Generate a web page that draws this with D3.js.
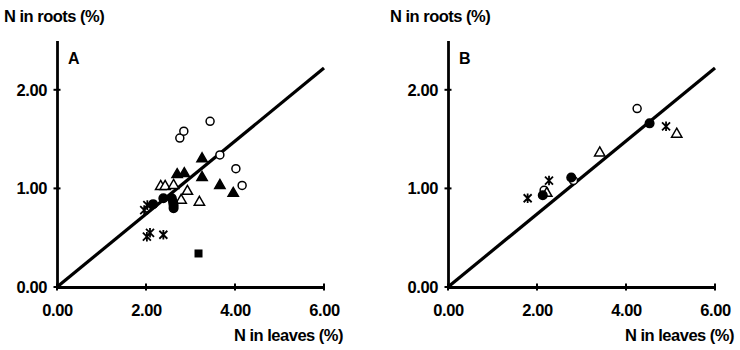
<!DOCTYPE html>
<html>
<head>
<meta charset="utf-8">
<script src="https://cdnjs.cloudflare.com/ajax/libs/d3/7.8.5/d3.min.js"></script>
<style>
  body { margin: 0; background: #fff; }
  svg text { font-family: "Liberation Sans", Arial, sans-serif; font-weight: bold; fill: #000; }
</style>
</head>
<body>
<div id="graph"></div>
<script>
// ---- data (N in leaves %, N in roots %) ----
var xTicks = [0, 2, 4, 6];
var yTicks = [0, 1, 2];
var fitX = [0, 6];
var fitY = [0, 2.22];

// panel A
var openCircleAx = [2.76, 2.85, 3.44, 3.66, 4.02, 4.16];
var openCircleAy = [1.51, 1.58, 1.68, 1.34, 1.20, 1.03];
var filledCircleAx = [2.16, 2.39, 2.58, 2.61, 2.62, 2.62];
var filledCircleAy = [0.84, 0.90, 0.90, 0.86, 0.83, 0.80];
var openTriAx = [2.33, 2.43, 2.62, 2.93, 2.79, 3.20];
var openTriAy = [1.02, 1.02, 1.03, 0.97, 0.88, 0.86];
var filledTriAx = [3.26, 2.70, 2.86, 3.26, 3.66, 3.96];
var filledTriAy = [1.30, 1.14, 1.15, 1.11, 1.03, 0.95];
var starAx = [1.96, 2.03, 2.02, 2.09, 2.39];
var starAy = [0.78, 0.83, 0.51, 0.55, 0.53];
var squareAx = [3.18];
var squareAy = [0.34];

// panel B
var openCircleBx = [4.25, 2.82, 2.16];
var openCircleBy = [1.81, 1.08, 0.98];
var filledCircleBx = [4.53, 2.77, 2.13];
var filledCircleBy = [1.66, 1.11, 0.93];
var openTriBx = [5.14, 3.41, 2.22];
var openTriBy = [1.55, 1.36, 0.95];
var starBx = [4.90, 2.27, 1.79];
var starBy = [1.63, 1.08, 0.90];

var svg = d3.select("#graph").append("svg")
    .attr("width", 740)
    .attr("height", 350);

function zip(xs, ys) { return xs.map(function(x, i) { return [x, ys[i]]; }); }

// X with vertical bar, like the spreadsheet "*" marker
function starPath(s) {
    return "M" + (-s) + "," + (-s) + "L" + s + "," + s +
           "M" + (-s) + "," + s + "L" + s + "," + (-s) +
           "M0," + (-s * 1.2) + "L0," + (s * 1.2);
}

function panel(left, letter, titleX, series) {
    var x = d3.scaleLinear().domain([0, 6]).range([left, left + 267]);
    var y = d3.scaleLinear().domain([0, 2.5]).range([287, 40.5]);
    var g = svg.append("g");

    // axes
    var xaxis = d3.axisBottom(x).tickValues(xTicks).tickSize(0).tickPadding(17)
        .tickFormat(d3.format(".2f"));
    var yaxis = d3.axisLeft(y).tickValues(yTicks).tickSize(0).tickPadding(10)
        .tickFormat(d3.format(".2f"));
    g.append("g").attr("class", "x axis")
        .attr("transform", "translate(0," + y(0) + ")")
        .call(xaxis);
    g.append("g").attr("class", "y axis")
        .attr("transform", "translate(" + x(0) + ",0)")
        .call(yaxis);
    g.selectAll(".axis path").attr("stroke", "#000").attr("stroke-width", 2.8);
    g.selectAll(".axis text").style("font-size", "16.5px").style("font-family", null)
        .style("letter-spacing", "-0.4px");
    // crossing tick marks
    g.selectAll(".xt").data(xTicks).enter().append("line")
        .attr("x1", function(d) { return x(d); }).attr("x2", function(d) { return x(d); })
        .attr("y1", y(0) - 3.5).attr("y2", y(0) + 3.5)
        .attr("stroke", "#000").attr("stroke-width", 2);
    g.selectAll(".yt").data(yTicks).enter().append("line")
        .attr("y1", function(d) { return y(d); }).attr("y2", function(d) { return y(d); })
        .attr("x1", x(0) - 3.5).attr("x2", x(0) + 3.5)
        .attr("stroke", "#000").attr("stroke-width", 2);

    // titles
    g.append("text").attr("x", titleX).attr("y", 22)
        .style("font-size", "16.5px").style("letter-spacing", "-0.5px")
        .text("N in roots (%)");
    g.append("text").attr("x", left + 286).attr("y", 341)
        .style("text-anchor", "end")
        .style("font-size", "16.5px").style("letter-spacing", "-0.5px")
        .text("N in leaves (%)");
    g.append("text").attr("x", left + 11).attr("y", 64)
        .style("font-size", "16px")
        .text(letter);

    // fitted line
    g.append("path")
        .datum(zip(fitX, fitY))
        .attr("d", d3.line().x(function(d) { return x(d[0]); }).y(function(d) { return y(d[1]); }))
        .attr("stroke", "#000").attr("stroke-width", 3.2).attr("fill", "none");

    // markers
    var tri = d3.symbol().type(d3.symbolTriangle).size(46);
    series.forEach(function(s) {
        var pts = g.selectAll(null).data(zip(s.x, s.y)).enter();
        if (s.kind == "circle") {
            pts.append("circle")
                .attr("cx", function(d) { return x(d[0]); })
                .attr("cy", function(d) { return y(d[1]); })
                .attr("r", s.fill ? 4.3 : 4)
                .attr("fill", s.fill ? "#000" : "#fff")
                .attr("stroke", "#000").attr("stroke-width", 1.5);
        } else if (s.kind == "tri") {
            pts.append("path")
                .attr("d", tri)
                .attr("transform", function(d) { return "translate(" + x(d[0]) + "," + y(d[1]) + ")"; })
                .attr("fill", s.fill ? "#000" : "#fff")
                .attr("stroke", "#000").attr("stroke-width", 1.5);
        } else if (s.kind == "star") {
            pts.append("path")
                .attr("d", starPath(4))
                .attr("transform", function(d) { return "translate(" + x(d[0]) + "," + y(d[1]) + ")"; })
                .attr("stroke", "#000").attr("stroke-width", 1.8).attr("fill", "none");
        } else if (s.kind == "square") {
            pts.append("rect")
                .attr("x", function(d) { return x(d[0]) - 4; })
                .attr("y", function(d) { return y(d[1]) - 4; })
                .attr("width", 8).attr("height", 8)
                .attr("fill", "#000");
        }
    });
}

panel(57, "A", 4, [
    {kind: "circle", fill: false, x: openCircleAx, y: openCircleAy},
    {kind: "tri", fill: false, x: openTriAx, y: openTriAy},
    {kind: "tri", fill: true, x: filledTriAx, y: filledTriAy},
    {kind: "circle", fill: true, x: filledCircleAx, y: filledCircleAy},
    {kind: "star", x: starAx, y: starAy},
    {kind: "square", x: squareAx, y: squareAy}
]);
panel(448, "B", 390, [
    {kind: "circle", fill: false, x: openCircleBx, y: openCircleBy},
    {kind: "tri", fill: false, x: openTriBx, y: openTriBy},
    {kind: "circle", fill: true, x: filledCircleBx, y: filledCircleBy},
    {kind: "star", x: starBx, y: starBy}
]);
</script>
</body>
</html>
